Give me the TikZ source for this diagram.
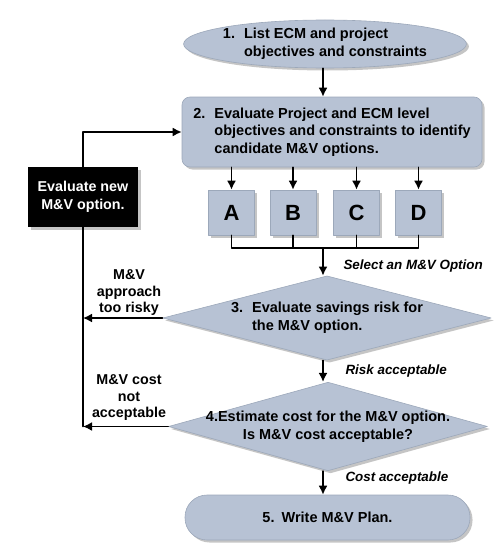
\documentclass[tikz,border=0pt]{standalone}
\usepackage{fontspec}
\setmainfont{Liberation Sans}
\usepackage{tikz}
\usetikzlibrary{arrows.meta,shapes.geometric,shadows}
\definecolor{boxfill}{HTML}{B7C2D4}
\definecolor{boxedge}{HTML}{9CA8BA}
\definecolor{shade}{HTML}{8C8C8C}
\tikzset{
  Shaded/.style={
    drop shadow={shadow xshift=2.5pt, shadow yshift=-2.5pt,
      fill=shade, opacity=0.5}
  },
  StepShape/.style={
    Shaded, fill=boxfill, draw=boxedge, line width=0.6pt,
    font=\bfseries\fontsize{14.5}{17.5}\selectfont, align=left
  },
  OptionBox/.style={
    StepShape, minimum width=46pt, minimum height=45pt,
    font=\bfseries\fontsize{22}{22}\selectfont
  },
  SideNote/.style={
    font=\bfseries\fontsize{14.3}{16.5}\selectfont, align=center
  },
  PathNote/.style={
    anchor=west, font=\bfseries\itshape\fontsize{13.4}{17}\selectfont
  },
  FlowArrow/.style={
    line width=1.6pt, -{Latex[length=9pt,width=9pt]}
  },
  FlowLine/.style={line width=1.6pt}
}
\newcommand{\StepNo}[2]{%
  % #1 = step number, #2 = lines of the step text
  \begin{tabular}{@{}l@{\hspace{9pt}}l@{}}#1 &
    \begin{tabular}[t]{@{}l@{}}#2\end{tabular}\end{tabular}}

\begin{document}
\begin{tikzpicture}[x=1pt, y=-1pt, line cap=round, line join=round]
  \useasboundingbox (0,0) rectangle (502,551);

  % steps down the middle
  \node[StepShape, ellipse, inner sep=-2pt, minimum width=275pt,
    minimum height=48pt] (list) at (325,44)
    {\StepNo{1.}{List ECM and project\\objectives and constraints}};
  \node[StepShape, rectangle, rounded corners=8pt, inner sep=0pt,
    minimum width=300pt, minimum height=70pt] (evalproj) at (332,132)
    {\StepNo{2.}{Evaluate Project and ECM level\\objectives and constraints to identify\\candidate M\&V options.}};

  % the four options
  \node[OptionBox] (optA) at (231.5,212.5) {A};
  \node[OptionBox] (optB) at (293,212.5) {B};
  \node[OptionBox] (optC) at (356.5,212.5) {C};
  \node[OptionBox] (optD) at (418.5,212.5) {D};

  \node[StepShape, diamond, aspect=3.9, inner sep=0pt,
    minimum width=315pt, minimum height=80pt] (risk) at (327,318)
    {\StepNo{3.}{Evaluate savings risk for\\the M\&V option.}};
  \node[StepShape, diamond, aspect=3.6, inner sep=-4pt, align=center,
    minimum width=315pt, minimum height=87pt] (cost) at (328,426.5)
    {4.Estimate cost for the M\&V option.\\Is M\&V cost acceptable?};
  \node[StepShape, rectangle, rounded corners=22pt,
    minimum width=285pt, minimum height=45pt] (plan) at (327.5,517.5)
    {5.\hspace{7pt}Write M\&V Plan.};

  % loop back box
  \node[Shaded, fill=black, text=white, minimum width=110pt,
    minimum height=60pt, align=center,
    font=\bfseries\fontsize{14.3}{17.5}\selectfont] (newopt) at (83,197)
    {Evaluate new\\M\&V option.};

  % connectors
  \draw[FlowArrow] (list.south -| 323,0) -- (evalproj.north -| 323,0);
  \foreach \opt in {optA,optB,optC,optD}
    \draw[FlowArrow] (evalproj.south -| \opt.north) -- (\opt.north);

  \coordinate (pick) at (323,248);
  \draw[FlowLine] (optA.south) |- (pick) -| (optD.south);
  \draw[FlowLine] (optB.south) -- (optB.south |- pick);
  \draw[FlowLine] (optC.south) -- (optC.south |- pick);
  \draw[FlowArrow] (pick) -- (pick |- risk.north);
  \node[PathNote] (selnote) at (340,266) {Select an M\&V Option};

  \draw[FlowArrow] (risk.south -| pick) -- (cost.north -| pick);
  \node[PathNote] (risknote) at (342,371) {Risk acceptable};
  \draw[FlowArrow] (cost.south -| pick) -- (plan.north -| pick);
  \node[PathNote] (costnote) at (342,478) {Cost acceptable};

  % back to step 2
  \draw[FlowArrow] (newopt.north) |- (evalproj.west);
  \draw[FlowLine] (newopt.south) -- (newopt.south |- cost.west);
  \draw[FlowArrow] (risk.west) -- (risk.west -| newopt.south);
  \draw[FlowArrow] (cost.west) -- (cost.west -| newopt.south);
  \node[SideNote] (risky) at (129,293) {M\&V\\approach\\too risky};
  \node[SideNote] (costly) at (129,398) {M\&V cost\\not\\acceptable};
\end{tikzpicture}
\end{document}
